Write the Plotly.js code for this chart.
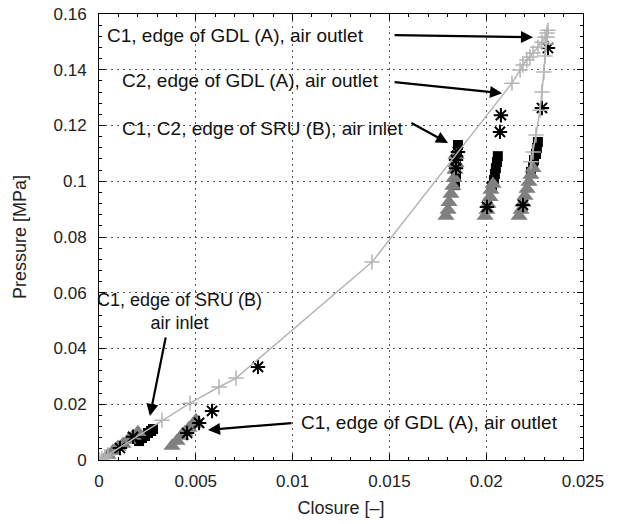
<!DOCTYPE html>
<html>
<head>
<meta charset="utf-8">
<script src="https://cdn.plot.ly/plotly-3.0.1.min.js"></script>
<style>html,body{margin:0;padding:0;background:#fff;}#chart{width:619px;height:524px;}</style>
</head>
<body>
<div id="chart"></div>
<script>
// Gray "+" curve: loading then unloading
const curveX = [0, 0.00015, 0.0003, 0.00046, 0.00325, 0.0047, 0.0062, 0.00708, 0.0141, 0.02133, 0.02175, 0.0219, 0.0221, 0.02226, 0.02242, 0.02267, 0.02288, 0.02304, 0.02314, 0.02319, 0.02314, 0.02309, 0.02304, 0.02298, 0.02288, 0.02278, 0.02257, 0.02242, 0.02231];
const curveY = [0, 0.0004, 0.0011, 0.0018, 0.0143, 0.0204, 0.0262, 0.0294, 0.071, 0.1352, 0.1399, 0.1417, 0.1435, 0.1446, 0.146, 0.1481, 0.1499, 0.1517, 0.1532, 0.1542, 0.1517, 0.1492, 0.1449, 0.1392, 0.132, 0.1255, 0.1166, 0.1105, 0.107];

// Black asterisks
const starX = [0.00108, 0.00176, 0.00455, 0.00517, 0.00584, 0.00821, 0.01854, 0.01844, 0.01844, 0.02076, 0.02071, 0.02004, 0.02319, 0.02288, 0.0219];
const starY = [0.0043, 0.0083, 0.0097, 0.0133, 0.0176, 0.0334, 0.1105, 0.1076, 0.1047, 0.1237, 0.1177, 0.0908, 0.1478, 0.1263, 0.0915];

// Black squares
const squareX = [0.00207, 0.00222, 0.00238, 0.00253, 0.00269, 0.00279, 0.01854, 0.01849, 0.01844, 0.01844, 0.01839, 0.0206, 0.02056, 0.0205, 0.02045, 0.0204, 0.0203, 0.02267, 0.02262, 0.02257, 0.02247, 0.02242, 0.02231];
const squareY = [0.0068, 0.0079, 0.0086, 0.0097, 0.0104, 0.0111, 0.113, 0.1094, 0.1058, 0.1022, 0.0986, 0.109, 0.1069, 0.1047, 0.1026, 0.1004, 0.0983, 0.1141, 0.1119, 0.1098, 0.1076, 0.1055, 0.1033];

// Gray triangles
const triX = [0.00046, 0.00072, 0.00098, 0.00124, 0.0015, 0.00176, 0.00201, 0.00377, 0.00403, 0.00424, 0.00444, 0.00465, 0.00486, 0.00501, 0.01844, 0.01844, 0.01839, 0.01834, 0.01828, 0.01818, 0.01808, 0.01803, 0.01792, 0.02035, 0.02025, 0.0202, 0.02009, 0.02004, 0.01994, 0.02242, 0.02231, 0.02221, 0.02211, 0.022, 0.0219, 0.0218, 0.0217];
const triY = [0.0018, 0.0032, 0.0047, 0.0057, 0.0072, 0.0086, 0.01, 0.005, 0.0068, 0.0086, 0.01, 0.0115, 0.0129, 0.0143, 0.1094, 0.1065, 0.104, 0.1011, 0.0983, 0.0954, 0.0925, 0.0897, 0.0875, 0.099, 0.0969, 0.0943, 0.0918, 0.0897, 0.0875, 0.1047, 0.1022, 0.0997, 0.0972, 0.0947, 0.0922, 0.0897, 0.0875];

const xTicks = [0, 0.005, 0.01, 0.015, 0.02, 0.025];
const xTickText = ['0', '0.005', '0.01', '0.015', '0.02', '0.025'];
const yTicks = [0, 0.02, 0.04, 0.06, 0.08, 0.1, 0.12, 0.14, 0.16];
const yTickText = ['0', '0.02', '0.04', '0.06', '0.08', '0.1', '0.12', '0.14', '0.16'];

const FONT = 'Liberation Sans, Arial, sans-serif';

const traces = [
  {x: squareX, y: squareY, mode: 'markers', type: 'scatter',
   marker: {symbol: 'square', size: 10, color: '#000'}},
  {x: triX, y: triY, mode: 'markers', type: 'scatter',
   marker: {symbol: 'triangle-up', size: 15, color: '#808080'}},
  {x: starX, y: starY, mode: 'markers', type: 'scatter',
   marker: {symbol: 'asterisk-open', size: 12, color: '#000', line: {color: '#000', width: 2}}},
  {x: curveX, y: curveY, mode: 'lines+markers', type: 'scatter',
   line: {color: '#b4b4b4', width: 1.5},
   marker: {symbol: 'cross-thin-open', size: 11, color: '#b4b4b4', line: {color: '#b4b4b4', width: 1.5}}}
];

function arrow(tx, ty, hx, hy) {
  return {x: hx, y: hy, ax: tx, ay: ty, xref: 'x', yref: 'y', axref: 'x', ayref: 'y',
    text: '', showarrow: true, arrowhead: 2, arrowsize: 1.1, arrowwidth: 2.2, arrowcolor: '#000', standoff: 0, startstandoff: 0};
}
function label(x, y, text, anchor) {
  return {x: x, y: y, xref: 'x', yref: 'y', text: text, showarrow: false,
    xanchor: anchor || 'left', yanchor: 'middle', font: {family: FONT, size: 19, color: '#111'}};
}

const annotations = [
  label(0.00031, 0.1524, 'C1, edge of GDL (A), air outlet'),
  arrow(0.01519, 0.1524, 0.02242, 0.1517),
  label(0.00108, 0.136, 'C2, edge of GDL (A), air outlet'),
  arrow(0.01519, 0.1356, 0.02082, 0.1316),
  label(0.00108, 0.1191, 'C1, C2, edge of SRU (B), air inlet'),
  arrow(0.01606, 0.1212, 0.01803, 0.1137),
  {x: 0.00418, y: 0.0531, xref: 'x', yref: 'y', text: 'C1, edge of SRU (B)<br>air inlet', showarrow: false,
   xanchor: 'center', yanchor: 'middle', align: 'center', font: {family: FONT, size: 18, color: '#111'}},
  arrow(0.00346, 0.0445, 0.00263, 0.0158),
  label(0.02381, 0.0136, 'C1, edge of GDL (A), air outlet', 'right'),
  arrow(0.01002, 0.0133, 0.00563, 0.0108)
];

const axisCommon = {
  showline: true, linecolor: '#000', linewidth: 1, mirror: 'ticks',
  ticks: 'inside', ticklen: 6, tickcolor: '#000', tickwidth: 1,
  showgrid: true, gridcolor: '#555', griddash: '1.5px,4.5px', gridwidth: 1,
  zeroline: false, tickfont: {family: FONT, size: 17, color: '#222'}
};

const layout = {
  width: 619, height: 524,
  margin: {l: 99, r: 36, t: 14, b: 64},
  paper_bgcolor: '#fff', plot_bgcolor: '#fff',
  showlegend: false,
  xaxis: Object.assign({}, axisCommon, {
    range: [0, 0.025], tickvals: xTicks, ticktext: xTickText, ticklabelstandoff: 6,
    minor: {ticks: 'inside', ticklen: 3, dtick: 0.001, tickcolor: '#000', showgrid: false},
    title: {text: 'Closure [–]', font: {family: FONT, size: 18, color: '#222'}, standoff: 10}
  }),
  yaxis: Object.assign({}, axisCommon, {
    range: [0, 0.16], tickvals: yTicks, ticktext: yTickText, ticklabelstandoff: 8,
    minor: {ticks: 'inside', ticklen: 3, dtick: 0.004, tickcolor: '#000', showgrid: false},
    title: {text: 'Pressure [MPa]', font: {family: FONT, size: 18, color: '#222'}, standoff: 22}
  }),
  annotations: annotations
};

Plotly.newPlot('chart', traces, layout, {staticPlot: true, displayModeBar: false});
</script>
</body>
</html>
